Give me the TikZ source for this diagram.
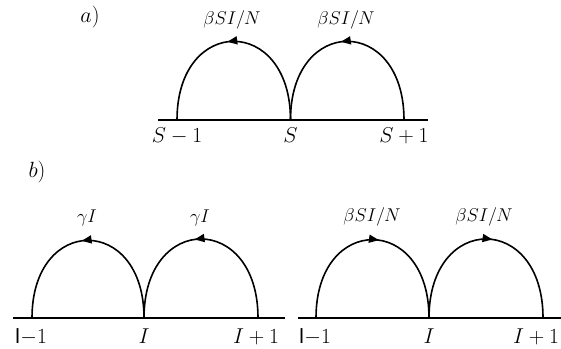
\RequirePackage{fix-cm}
\documentclass[tikz,border=0pt]{standalone}
\usetikzlibrary{arrows.meta,decorations.markings}
\begin{document}
\begin{tikzpicture}[x=1pt,y=1pt,
  axis/.style={line width=1.8pt},
  hop/.style={line width=1.6pt,out=90,in=90,looseness=2.37,postaction={decorate},
    decoration={markings,mark=at position 0.53 with {\arrow{Triangle[length=10pt,width=8pt]}}}},
  rate/.style={anchor=base,font=\fontsize{18.5}{22}\selectfont},
  site/.style={anchor=base,font=\fontsize{21.5}{26}\selectfont},
  tag/.style={anchor=base,font=\fontsize{22}{26}\selectfont}]
\useasboundingbox (0,0) rectangle (561,348);
% a)
\node[tag] (ta) at (90,325) {$a)$};
\coordinate (aL) at (158,228);
\coordinate (aR) at (428,228);
\coordinate (a1) at (177,228);
\coordinate (a2) at (290.5,228);
\coordinate (a3) at (404,228);
\draw[axis] (aL) -- (aR);
\draw[hop] (a2) to (a1);
\draw[hop] (a3) to (a2);
\node[rate] (ra1) at (232,323) {$\beta SI/N$};
\node[rate] (ra2) at (346,323) {$\beta SI/N$};
\node[site] (sa1) at (177,205) {$S-1$};
\node[site] (sa2) at (290.5,205) {$S$};
\node[site] (sa3) at (404,205) {$S+1$};
% b)
\node[tag] (tb) at (37,170) {$b)$};
\coordinate (bL) at (13,30);
\coordinate (bR) at (285,30);
\coordinate (b1) at (32,30);
\coordinate (b2) at (144,30);
\coordinate (b3) at (258,30);
\draw[axis] (bL) -- (bR);
\draw[hop] (b2) to (b1);
\draw[hop] (b3) to (b2);
\node[rate] (rb1) at (87,126) {$\gamma I$};
\node[rate] (rb2) at (200,126) {$\gamma I$};
\node[site] (sb1) at (31,5) {\textsf{I}${-}1$};
\node[site] (sb2) at (144,5) {$I$};
\node[site] (sb3) at (256,5) {$I+1$};
\coordinate (cL) at (298,30);
\coordinate (cR) at (561,30);
\coordinate (c1) at (316,30);
\coordinate (c2) at (429,30);
\coordinate (c3) at (543,30);
\draw[axis] (cL) -- (cR);
\draw[hop] (c1) to (c2);
\draw[hop] (c2) to (c3);
\node[rate] (rc1) at (372,127) {$\beta SI/N$};
\node[rate] (rc2) at (484,127) {$\beta SI/N$};
\node[site] (sc1) at (315,5) {\textsf{I}${-}1$};
\node[site] (sc2) at (429,5) {$I$};
\node[site] (sc3) at (536,5) {$I+1$};
\end{tikzpicture}
\end{document}
